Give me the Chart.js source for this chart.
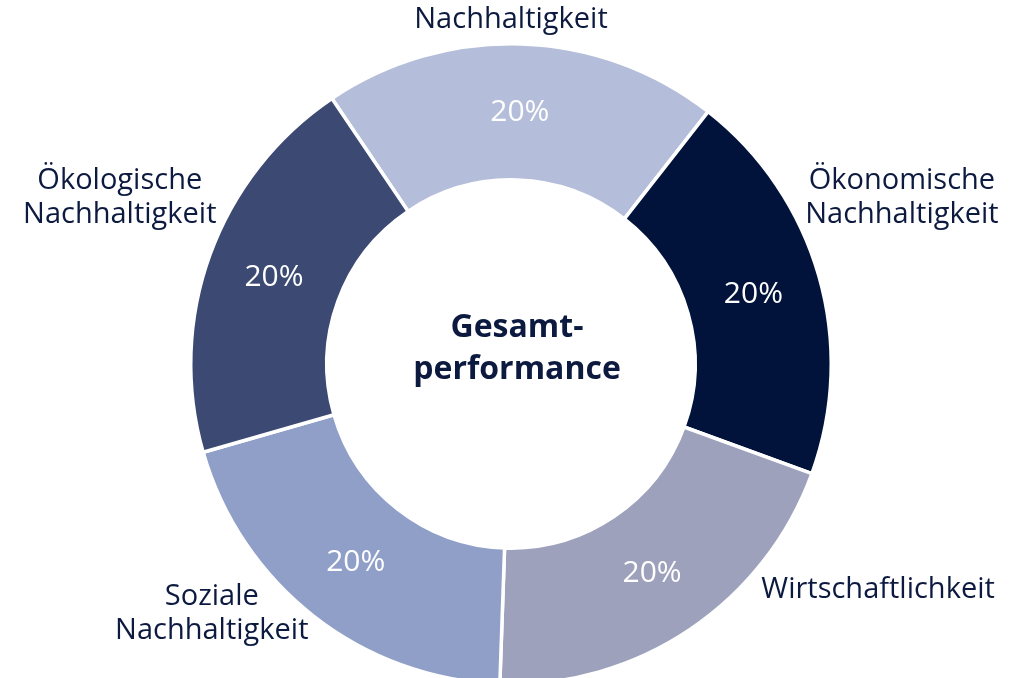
<!DOCTYPE html>
<html lang="de">
<head>
<meta charset="UTF-8">
<title>Gesamtperformance</title>
<script src="https://cdn.jsdelivr.net/npm/chart.js"></script>
<style>
    html, body { margin: 0; padding: 0; background: #fff; overflow: hidden; }
    #wrap { position: relative; width: 1025px; height: 730px; }
</style>
</head>
<body>
<div id="wrap"><canvas id="donut"></canvas></div>
<script>
    // chart data
    const categories = ['Nachhaltigkeit', 'Ökonomische\nNachhaltigkeit', 'Wirtschaftlichkeit', 'Soziale\nNachhaltigkeit', 'Ökologische\nNachhaltigkeit'];
    const shares = [20, 20, 20, 20, 20];
    const centerTitle = ['Gesamt-', 'performance'];

    const sliceColors = ['#b4bdd9', '#01133a', '#9ea1bb', '#8f9fc8', '#3c4a73'];
    const textColor = '#0c1a40';
    const font = '"Open Sans", "DejaVu Sans", sans-serif';

    // where the outer labels sit: angle from 12 o'clock (clockwise) and distance from centre
    const labelAngle = [0, 66.9, 121.6, 230.1, 293];
    const labelDist = [344, 425, 431, 390, 425];

    const donutLabels = {
        id: 'donutLabels',
        afterDraw(chart) {
            const ctx = chart.ctx;
            const meta = chart.getDatasetMeta(0);
            const cx = meta.data[0].x, cy = meta.data[0].y;
            ctx.save();
            ctx.textAlign = 'center';
            ctx.textBaseline = 'middle';

            // percentages inside slices
            ctx.fillStyle = '#ffffff';
            ctx.font = '30px ' + font;
            meta.data.forEach((arc, i) => {
                const p = arc.getCenterPoint();
                ctx.fillText(shares[i] + '%', p.x, p.y);
            });

            // category labels around the ring
            ctx.fillStyle = textColor;
            ctx.font = '29px ' + font;
            const lh = 34;
            categories.forEach((c, i) => {
                const a = labelAngle[i] * Math.PI / 180;
                const x = cx + Math.sin(a) * labelDist[i];
                const y = cy - Math.cos(a) * labelDist[i];
                const lines = c.split('\n');
                lines.forEach((ln, k) => {
                    ctx.fillText(ln, x, y + (k - (lines.length - 1) / 2) * lh);
                });
            });

            // centre title, sits a bit above and right of the middle
            ctx.font = 'bold 32px ' + font;
            centerTitle.forEach((ln, k) => {
                ctx.fillText(ln, cx + 6, cy - 15 + (k - (centerTitle.length - 1) / 2) * 42);
            });
            ctx.restore();
        }
    };

    new Chart(document.getElementById('donut'), {
        type: 'doughnut',
        data: {
            labels: categories,
            datasets: [{
                data: shares,
                backgroundColor: sliceColors,
                borderColor: '#ffffff',
                borderWidth: 3.5
            }]
        },
        options: {
            responsive: true,
            maintainAspectRatio: false,
            animation: false,
            rotation: -34,
            cutout: '57.5%',
            layout: { padding: { top: 42, bottom: 44, left: 189, right: 192 } },
            plugins: {
                legend: { display: false },
                tooltip: { enabled: false }
            }
        },
        plugins: [donutLabels]
    });
</script>
</body>
</html>
